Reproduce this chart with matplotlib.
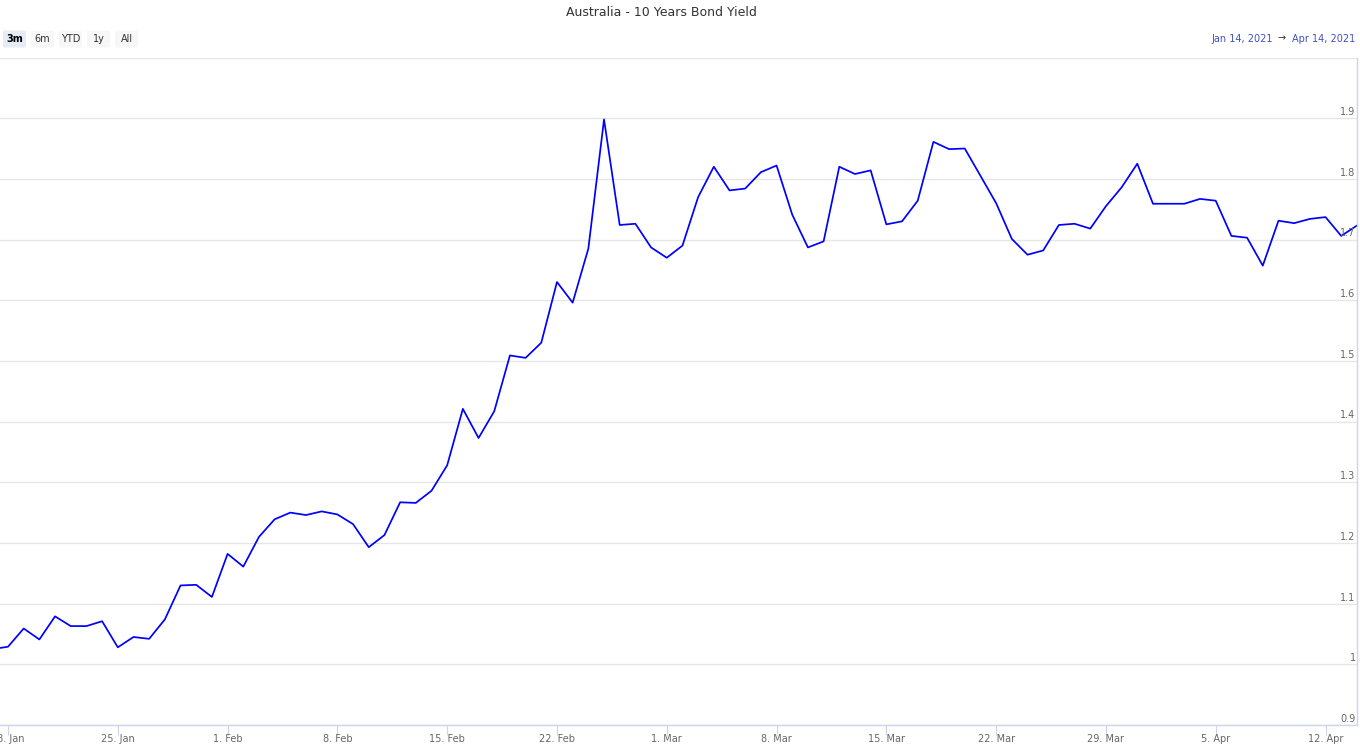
import datetime as dt

import matplotlib
matplotlib.use('Agg')
import matplotlib.pyplot as plt
import matplotlib.dates as mdates
import matplotlib.ticker as mticker
from matplotlib.patches import FancyBboxPatch
import pandas as pd

# daily yields, 17 Jan 2021 .. 14 Apr 2021
start_date = '2021-01-17'
yields = [
    # Jan 17-31
    1.025, 1.029, 1.059, 1.041, 1.079, 1.063, 1.063, 1.071, 1.028, 1.045,
    1.042, 1.074, 1.130, 1.131, 1.111,
    # Feb
    1.182, 1.161, 1.210, 1.239, 1.250, 1.246, 1.252, 1.247, 1.231, 1.193,
    1.213, 1.267, 1.266, 1.286, 1.328, 1.421, 1.373, 1.417, 1.509, 1.505,
    1.530, 1.630, 1.596, 1.685, 1.898, 1.724, 1.726, 1.687,
    # Mar
    1.670, 1.690, 1.770, 1.820, 1.781, 1.784, 1.811, 1.822, 1.741, 1.687,
    1.697, 1.820, 1.808, 1.814, 1.725, 1.730, 1.764, 1.861, 1.849, 1.850,
    1.805, 1.760, 1.701, 1.675, 1.682, 1.724, 1.726, 1.718, 1.755, 1.786,
    1.825,
    # Apr 1-14
    1.759, 1.759, 1.759, 1.767, 1.764, 1.706, 1.703, 1.657, 1.731, 1.727,
    1.734, 1.737, 1.706, 1.723,
]
dates = pd.date_range(start_date, periods=len(yields), freq='D')

ytick_vals = [0.9, 1.0, 1.1, 1.2, 1.3, 1.4, 1.5, 1.6, 1.7, 1.8, 1.9, 2.0]
ytick_labels = ['0.9', '1', '1.1', '1.2', '1.3', '1.4', '1.5', '1.6', '1.7', '1.8', '1.9', '']
buttons = ['3m', '6m', 'YTD', '1y', 'All']
title = 'Australia - 10 Years Bond Yield'
range_from = 'Jan 14, 2021'
range_to = 'Apr 14, 2021'

W, H = 1360, 755
fig = plt.figure(figsize=(W / 100, H / 100), dpi=100)


def fx(px):
    return px / W


def fy(py):
    return 1 - py / H


# plot area: x 0..1357, y 57.5..725
ax = fig.add_axes([0, fy(725), fx(1357), (725 - 57.5) / H])
ax.plot(dates, yields, color='#0000ff', lw=1.25)

ax.set_xlim(dt.datetime(2021, 1, 17, 11, 45), dt.datetime(2021, 4, 14, 0, 10))
ax.set_ylim(0.9, 2.0)

ax.set_yticks(ytick_vals)
ax.yaxis.set_ticklabels([])
ax.tick_params(axis='y', length=0)
ax.grid(axis='y', color='#e6e6e6', lw=1)
ax.set_axisbelow(True)
for v, lab in zip(ytick_vals, ytick_labels):
    ax.annotate(lab, xy=(1, v), xycoords=ax.get_yaxis_transform(),
                xytext=(-1, 0.8), textcoords='offset points',
                ha='right', va='bottom', fontsize=7, color='#666666')

ax.xaxis.set_major_locator(mdates.WeekdayLocator(byweekday=mdates.MO))
ax.xaxis.set_major_formatter(
    mticker.FuncFormatter(lambda x, pos: '{}. {}'.format(mdates.num2date(x).day,
                                                          mdates.num2date(x).strftime('%b'))))
ax.tick_params(axis='x', length=7, width=0.8, color='#ccd6eb', labelsize=7,
               labelcolor='#666666', pad=-0.5)

for side in ['top', 'left']:
    ax.spines[side].set_visible(False)
ax.spines['bottom'].set_color('#ccd6eb')
ax.spines['right'].set_color('#ccd6eb')
ax.spines['bottom'].set_linewidth(1)
ax.spines['right'].set_linewidth(1)

# title
fig.text(fx(661), fy(12), title, ha='center', va='center', fontsize=9, color='#333333')

# range selector buttons
for i, b in enumerate(buttons):
    x0 = 3 + 28 * i
    active = i == 0
    box = FancyBboxPatch((fx(x0), fy(47.5)), fx(23), 17 / H,
                         boxstyle='round,pad=0,rounding_size=0.002',
                         transform=fig.transFigure,
                         fc='#e6ebf5' if active else '#f7f7f7', ec='none')
    fig.add_artist(box)
    fig.text(fx(x0 + 11.5), fy(39), b, ha='center', va='center', fontsize=7,
             color='#000000' if active else '#333333',
             fontweight='bold' if active else 'normal')

# date range display
fig.text(fx(1355), fy(38.5), range_to, ha='right', va='center', fontsize=7, color='#3f51c0')
fig.text(fx(1282), fy(38.5), '\u2192', ha='center', va='center', fontsize=7, color='#333333')
fig.text(fx(1273), fy(38.5), range_from, ha='right', va='center', fontsize=7, color='#3f51c0')

fig.savefig('out.png', dpi=100)
